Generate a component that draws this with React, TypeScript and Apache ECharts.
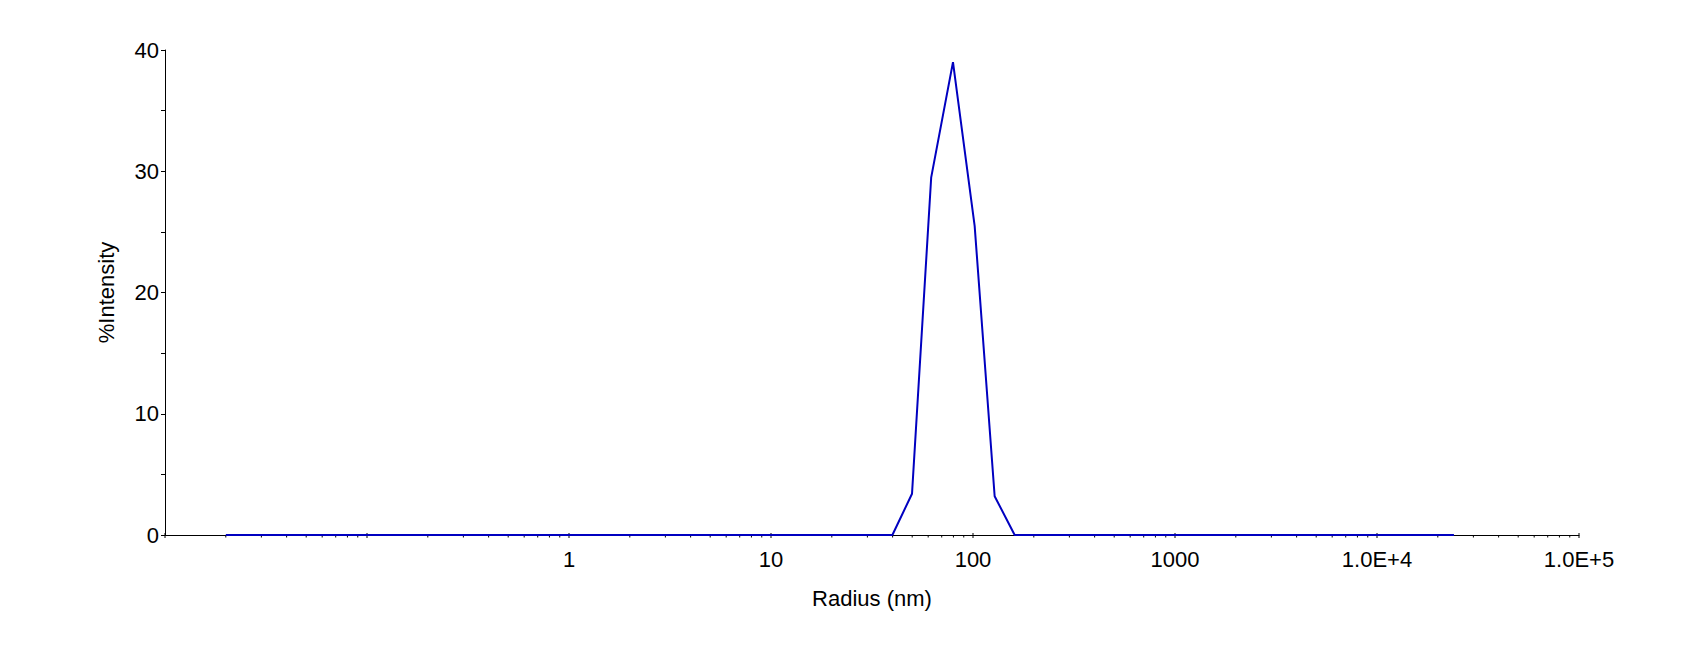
import React, { useEffect, useRef } from "react";
import * as echarts from "echarts";

// Radius (nm) and %Intensity
const radius = [0.02, 39.9, 49.9, 62.1, 79.6, 101.9, 128, 160.8, 24040];
const intensity = [0, 0, 3.4, 29.5, 39.0, 25.5, 3.2, 0, 0];

const xMin = 0.01;
const xMax = 100000;
const yTicks = [0, 10, 20, 30, 40];
const decadeExponents = [-2, -1, 0, 1, 2, 3, 4, 5];

const FONT = "'Liberation Sans', Arial, sans-serif";

function xLabel(v: number): string {
  if (v < 1) return "";
  if (v < 10000) return String(Math.round(v));
  return "1.0E+" + Math.round(Math.log10(v));
}

export default function App() {
  const ref = useRef<HTMLDivElement>(null);
  useEffect(() => {
    if (!ref.current) return;
    const chart = echarts.init(ref.current, null, { renderer: "svg" });

    const majorTicks = decadeExponents.map((e) => Math.pow(10, e));
    const minorTicks: number[] = [];
    decadeExponents.slice(0, -1).forEach((e) => {
      for (let m = 2; m <= 9; m++) minorTicks.push(m * Math.pow(10, e));
    });

    const tickSeries = (vals: number[], up: number, down: number) => ({
      type: "custom",
      silent: true,
      clip: false,
      z: 1,
      data: vals.map((v) => [v, 0]),
      renderItem: (params: any, api: any) => {
        const p = api.coord([api.value(0), 0]);
        return {
          type: "line",
          shape: { x1: p[0], y1: p[1] - up, x2: p[0], y2: p[1] + down },
          style: { stroke: "#000", lineWidth: 1 },
        };
      },
    });

    chart.setOption({
      animation: false,
      backgroundColor: "#fff",
      grid: { left: 165, right: 106, top: 50, bottom: 131, containLabel: false },
      xAxis: {
        type: "log",
        logBase: 10,
        min: xMin,
        max: xMax,
        name: "Radius (nm)",
        nameLocation: "middle",
        nameGap: 52,
        nameTextStyle: { color: "#000", fontSize: 22, fontFamily: FONT },
        axisLine: { show: true, lineStyle: { color: "#000", width: 1 } },
        axisTick: { show: false },
        splitLine: { show: false },
        axisLabel: {
          color: "#000",
          fontSize: 22,
          fontFamily: FONT,
          margin: 13,
          formatter: xLabel,
          showMinLabel: true,
          showMaxLabel: true,
        },
      },
      yAxis: {
        type: "value",
        min: 0,
        max: 40,
        interval: 10,
        name: "%Intensity",
        nameLocation: "middle",
        nameRotate: 90,
        nameGap: 48,
        nameTextStyle: { color: "#000", fontSize: 22, fontFamily: FONT },
        axisLine: { show: true, lineStyle: { color: "#000", width: 1 } },
        axisTick: { show: true, length: 4, lineStyle: { color: "#000" } },
        minorTick: { show: true, splitNumber: 2, length: 4, lineStyle: { color: "#000" } },
        splitLine: { show: false },
        axisLabel: {
          color: "#000",
          fontSize: 22,
          fontFamily: FONT,
          margin: 6,
          formatter: (v: number) => (yTicks.includes(v) ? String(v) : ""),
        },
      },
      series: [
        tickSeries(majorTicks, 2, 3),
        tickSeries(minorTicks, 0, 2.5),
        {
          type: "line",
          data: radius.map((r, i) => [r, intensity[i]]),
          showSymbol: false,
          symbol: "none",
          z: 3,
          lineStyle: { color: "#0000C0", width: 2 },
        },
      ],
    });
    return () => chart.dispose();
  }, []);
  return (
    <div
      ref={ref}
      style={{ position: "fixed", left: 0, top: 0, width: 1685, height: 666, background: "#fff" }}
    />
  );
}
